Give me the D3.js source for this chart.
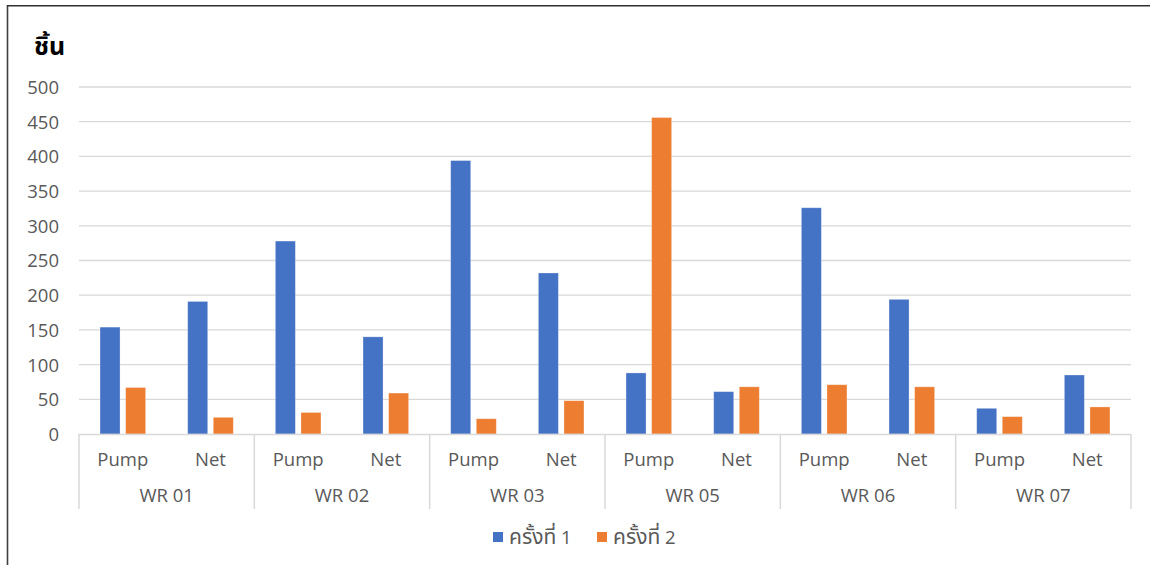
<!DOCTYPE html>
<html>
<head>
<meta charset="utf-8">
<script src="https://cdn.jsdelivr.net/npm/d3@7"></script>
<style>
  html, body { margin: 0; padding: 0; background: #fff; }
  svg { display: block; }
  text { font-family: "Segoe UI", "Open Sans", "Noto Sans Thai", "Noto Sans", sans-serif; }
</style>
</head>
<body>
<svg id="chart" width="1150" height="565"></svg>
<script>
// Stations and sampling methods
const stations = ["WR 01", "WR 02", "WR 03", "WR 05", "WR 06", "WR 07"];
const methods = ["Pump", "Net"];
const seriesNames = ["ครั้งที่", "ครั้งที่"];
const seriesNums = ["1", "2"];
const seriesColors = ["#4472C4", "#ED7D31"];

// Counts per station/method, in station order: [Pump, Net]
const round1 = [[154, 191], [278, 140], [394, 232], [88, 61], [326, 194], [37, 85]];
const round2 = [[67, 24], [31, 59], [22, 48], [456, 68], [71, 68], [25, 39]];

const yTicks = [0, 50, 100, 150, 200, 250, 300, 350, 400, 450, 500];
const yTitle = "ชิ้น";

const svg = d3.select("#chart");
const W = 1150, H = 565;
const plot = { left: 79, right: 1131, top: 87, bottom: 434 };
const labelSize = "18.5px";

// Frame lines
svg.append("line").attr("x1", 7.5).attr("x2", 7.5).attr("y1", 5).attr("y2", H)
  .attr("stroke", "#404040").attr("stroke-width", 1.6);
svg.append("line").attr("x1", 7).attr("x2", W).attr("y1", 5.8).attr("y2", 5.8)
  .attr("stroke", "#303030").attr("stroke-width", 1.6);

const y = d3.scaleLinear().domain([0, 500]).range([plot.bottom, plot.top]);
const xStation = d3.scaleBand().domain(stations).range([plot.left, plot.right]).padding(0);
const xMethod = d3.scaleBand().domain(methods).range([0, xStation.bandwidth()]).padding(0);
const barW = 20, barGap = 5.6;
const xSeries = d3.scaleOrdinal().domain([0, 1])
  .range([-(barW + barGap / 2), barGap / 2]);

// Gridlines
svg.append("g")
  .selectAll("line").data(yTicks.filter(d => d > 0)).join("line")
  .attr("x1", plot.left).attr("x2", plot.right)
  .attr("y1", d => y(d)).attr("y2", d => y(d))
  .attr("stroke", "#D9D9D9").attr("stroke-width", 1.3);

// Y axis labels
const yAxis = d3.axisLeft(y).tickValues(yTicks).tickSize(0).tickPadding(0);
const ya = svg.append("g").attr("transform", `translate(${plot.left - 20},0)`).call(yAxis);
ya.select(".domain").remove();
ya.selectAll("text").attr("fill", "#595959").style("font-size", labelSize)
  .attr("dy", "0.35em");

// Bars
const rows = [];
stations.forEach((s, i) => {
  methods.forEach((m, j) => {
    [round1, round2].forEach((ser, k) => {
      rows.push({ station: s, method: m, series: k, value: ser[i][j] });
    });
  });
});
svg.append("g").selectAll("rect").data(rows).join("rect")
  .attr("x", d => xStation(d.station) + xMethod(d.method) + xMethod.bandwidth() / 2 + xSeries(d.series))
  .attr("y", d => y(d.value))
  .attr("width", barW)
  .attr("height", d => y(0) - y(d.value))
  .attr("fill", d => seriesColors[d.series])
  .attr("stroke", "#ffffff").attr("stroke-opacity", 0.35).attr("stroke-width", 0.8);

// Category axis: baseline and group separators
svg.append("line").attr("x1", plot.left).attr("x2", plot.right)
  .attr("y1", plot.bottom + 0.5).attr("y2", plot.bottom + 0.5)
  .attr("stroke", "#D9D9D9").attr("stroke-width", 1.5);
const seps = stations.map(s => xStation(s)).concat([plot.right]);
svg.append("g").selectAll("line").data(seps).join("line")
  .attr("x1", d => d).attr("x2", d => d)
  .attr("y1", plot.bottom).attr("y2", 509)
  .attr("stroke", "#D9D9D9").attr("stroke-width", 1.5);

// Method labels
const methodLabels = [];
stations.forEach(s => methods.forEach(m => methodLabels.push({ s, m })));
svg.append("g").selectAll("text").data(methodLabels).join("text")
  .attr("x", d => xStation(d.s) + xMethod(d.m) + xMethod.bandwidth() / 2)
  .attr("y", 466)
  .attr("text-anchor", "middle")
  .attr("fill", "#595959").style("font-size", labelSize)
  .text(d => d.m);

// Station labels
svg.append("g").selectAll("text").data(stations).join("text")
  .attr("x", d => xStation(d) + xStation.bandwidth() / 2)
  .attr("y", 502)
  .attr("text-anchor", "middle")
  .attr("fill", "#595959").style("font-size", labelSize)
  .text(d => d);

// Y title
svg.append("text").attr("x", 34).attr("y", 55)
  .attr("fill", "#000").style("font-size", "25px").style("font-weight", "bold")
  .text(yTitle);

// Legend
const legend = svg.append("g");
const legX = [493, 597];
seriesNames.forEach((n, i) => {
  legend.append("rect").attr("x", legX[i]).attr("y", 532).attr("width", 10).attr("height", 10)
    .attr("fill", seriesColors[i]);
  const t = legend.append("text").attr("x", legX[i] + 16).attr("y", 544)
    .attr("fill", "#595959");
  t.append("tspan").style("font-size", "21px").text(n);
  t.append("tspan").style("font-size", "18.5px").text(" " + seriesNums[i]);
});
</script>
</body>
</html>
